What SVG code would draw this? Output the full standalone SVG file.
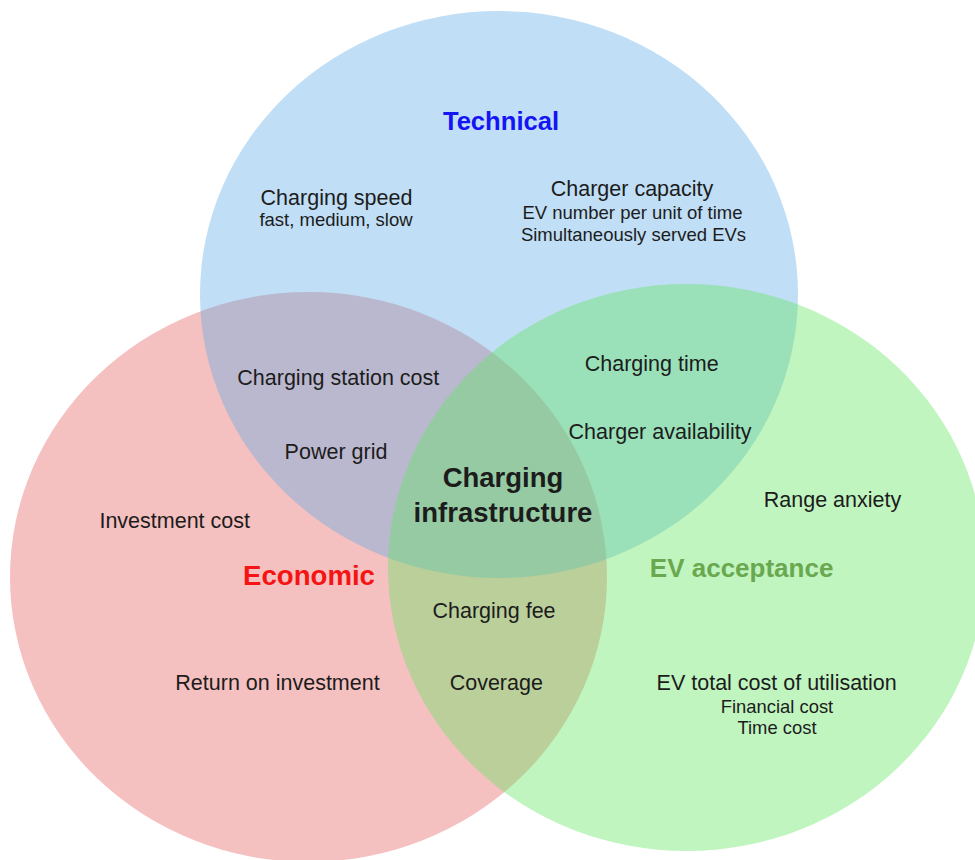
<svg xmlns="http://www.w3.org/2000/svg" width="975" height="860" viewBox="0 0 975 860">
<style>
.c{opacity:0.4}
text{font-family:"Liberation Sans",Arial,sans-serif;text-anchor:middle;fill:#1c1c1c}
.m{font-size:21.5px}
.s{font-size:18.5px}
.b{font-weight:bold}
</style>
<rect width="975" height="860" fill="#ffffff"/>
<g id="economic">
<ellipse class="c" cx="308.5" cy="577" rx="298.5" ry="285" fill="#e66262"/>
</g>
<g id="technical">
<ellipse class="c" cx="499" cy="294.5" rx="299" ry="283.5" fill="#62ade6"/>
</g>
<g id="ev-acceptance">
<ellipse class="c" cx="686.5" cy="567.5" rx="298.5" ry="283.5" fill="#62e662"/>
</g>
<g id="labels-technical">
<text class="b" x="501" y="129.5" style="font-size:25.6px;fill:#1414f5">Technical</text>
<text class="m" x="336.5" y="204.5">Charging speed</text>
<text class="s" x="336" y="225.5">fast, medium, slow</text>
<text class="m" x="632" y="196">Charger capacity</text>
<text class="s" x="632.5" y="218.5">EV number per unit of time</text>
<text class="s" x="633.5" y="240.5">Simultaneously served EVs</text>
</g>
<g id="labels-tech-econ">
<text class="m" x="338.3" y="385">Charging station cost</text>
<text class="m" x="336" y="459">Power grid</text>
</g>
<g id="labels-tech-ev">
<text class="m" x="651.7" y="371">Charging time</text>
<text class="m" x="660" y="438.5">Charger availability</text>
</g>
<g id="center">
<text class="b" x="503" y="487" style="font-size:27.5px">Charging</text>
<text class="b" x="503" y="522" style="font-size:27.5px">infrastructure</text>
</g>
<g id="labels-economic">
<text class="m" x="174.7" y="528.3">Investment cost</text>
<text class="b" x="309" y="585" style="font-size:27.6px;fill:#f51414">Economic</text>
<text class="m" x="277.5" y="690">Return on investment</text>
</g>
<g id="labels-econ-ev">
<text class="m" x="494" y="618.3">Charging fee</text>
<text class="m" x="496.3" y="690">Coverage</text>
</g>
<g id="labels-ev">
<text class="m" x="832.5" y="507.3">Range anxiety</text>
<text class="b" x="741.6" y="576.7" style="font-size:26px;fill:#6aa84f">EV acceptance</text>
<text class="m" x="776.7" y="689.5">EV total cost of utilisation</text>
<text class="s" x="777" y="712.8" style="font-size:18.4px">Financial cost</text>
<text class="s" x="777" y="734" style="font-size:18.4px">Time cost</text>
</g>
<g id="connectors"></g>
</svg>
